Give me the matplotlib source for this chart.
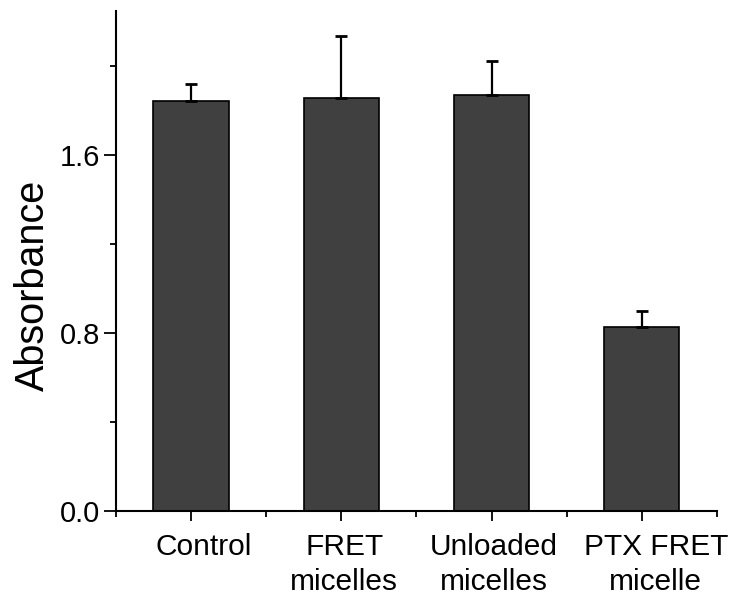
import matplotlib.pyplot as plt
import matplotlib.transforms as mtransforms
import numpy as np

plt.rcParams['font.family'] = ['Liberation Sans', 'DejaVu Sans']

groups = ["Control", "FRET\nmicelles", "Unloaded\nmicelles", "PTX FRET\nmicelle"]
absorbance = [1.843, 1.856, 1.870, 0.827]
err = [0.076, 0.279, 0.152, 0.072]

fig = plt.figure(figsize=(7.38, 5.99), dpi=100)
ax = fig.add_axes([0.157, 0.147, 0.8145, 0.8346])

x = np.arange(len(groups))
ax.bar(x, absorbance, width=0.5, color='#404040', edgecolor='black', linewidth=1.2, zorder=2)
ax.errorbar(x, absorbance, yerr=[np.zeros(len(err)), err], fmt='none',
            ecolor='black', elinewidth=1.6, capsize=4.5, capthick=2, zorder=3)

ax.set_xlim(-0.5, 3.5)
ax.set_ylim(0, 2.247)
ax.set_xticks(x)
ax.set_xticklabels([])
ax.set_xticks(np.arange(-0.5, 3.6, 1.0), minor=True)
ax.set_yticks([0.0, 0.8, 1.6])
ax.set_yticklabels(["0.0", "0.8", "1.6"], fontsize=21)
ax.set_yticks([0.4, 1.2, 2.0], minor=True)
ax.set_ylabel("Absorbance", fontsize=28.5)
ax.yaxis.set_label_coords(-0.106, 0.452)

# category labels: in the original they sit a little right of their ticks
shifts = [13, 3, 2, 14]
for xi, name, dx in zip(x, groups, shifts):
    tr = ax.get_xaxis_transform() + mtransforms.ScaledTranslation(dx / 100, -22 / 100, fig.dpi_scale_trans)
    ax.text(xi, 0, name, transform=tr, ha='center', va='top', fontsize=21.5,
            linespacing=1.3, multialignment='center', clip_on=False)

for s in ['top', 'right']:
    ax.spines[s].set_visible(False)
for s in ['left', 'bottom']:
    ax.spines[s].set_linewidth(1.5)

ax.tick_params(axis='y', which='major', direction='out', length=8.5, width=1.3, pad=3)
ax.tick_params(axis='y', which='minor', direction='out', length=4.3, width=1.3)
ax.tick_params(axis='x', which='major', direction='out', length=7.5, width=1.3)
ax.tick_params(axis='x', which='minor', direction='out', length=4.3, width=1.3)

fig.savefig("out.png", dpi=100)
